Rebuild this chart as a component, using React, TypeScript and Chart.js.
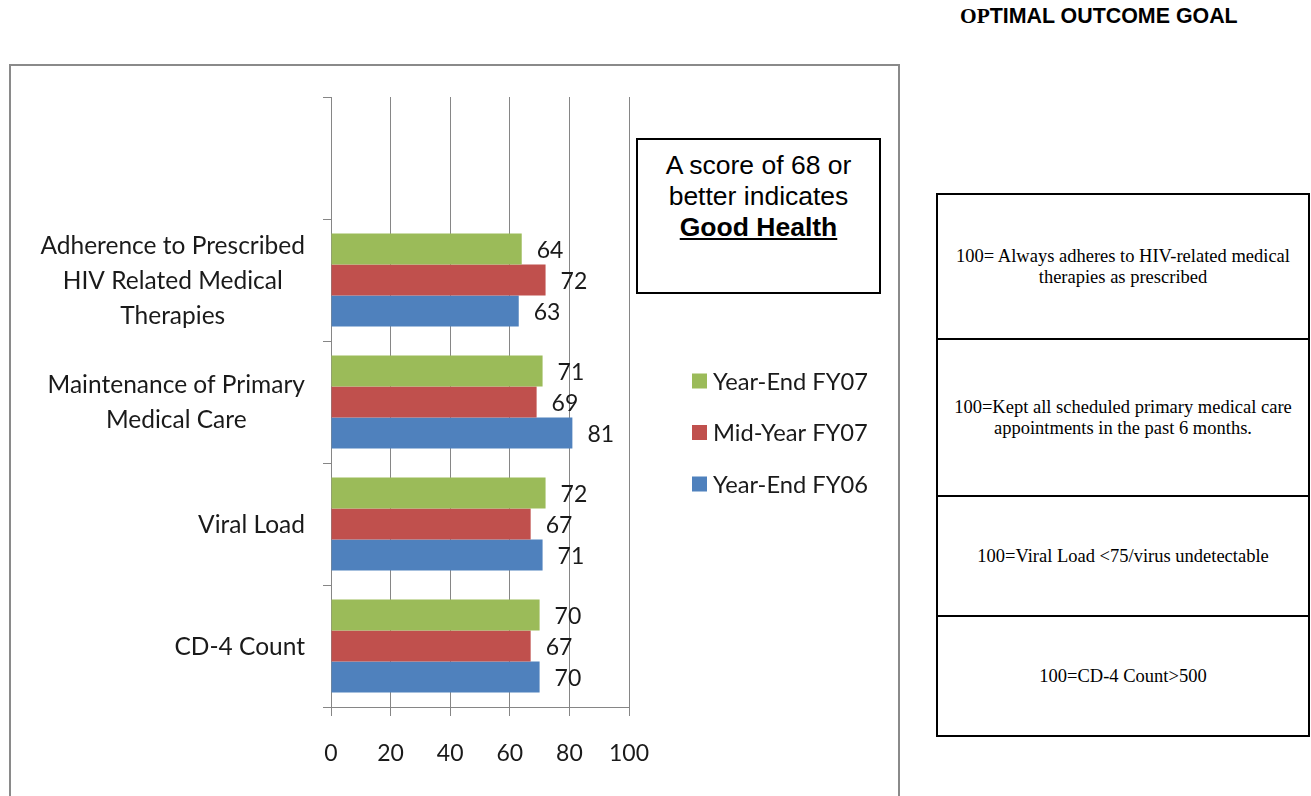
import React, { useEffect, useRef } from 'react';
import { Chart, registerables } from 'chart.js';
Chart.register(...registerables);

const categories = ['', 'Adherence to Prescribed HIV Related Medical Therapies', 'Maintenance of Primary Medical Care', 'Viral Load', 'CD-4 Count'];
const categoryLines: string[][] = [[], ['Adherence to Prescribed', 'HIV Related Medical', 'Therapies'], ['Maintenance of Primary', 'Medical Care'], ['Viral Load'], ['CD-4 Count']];
const yearEndFY07 = [null, 64, 71, 72, 70];
const midYearFY07 = [null, 72, 69, 67, 67];
const yearEndFY06 = [null, 63, 81, 71, 70];
const seriesNames = ['Year-End FY07', 'Mid-Year FY07', 'Year-End FY06'];
const seriesColors = ['#9BBB59', '#C0504D', '#4F81BD'];
const xMin = 0;
const xMax = 100;
const xStep = 20;
const goals = [
  ['100= Always adheres to HIV-related medical', 'therapies as prescribed'],
  ['100=Kept all scheduled primary medical care', 'appointments in the past 6 months.'],
  ['100=Viral Load <75/virus undetectable'],
  ['100=CD-4 Count>500'],
];
const goalRowHeights = [145, 157, 120, 120];

const FONT = 'Lato, "Open Sans", sans-serif';
const GRID = '#868686';
const TEXT = '#1a1a1a';

const labelsPlugin = {
  id: 'customLabels',
  afterDatasetsDraw(chart: any) {
    const ctx = chart.ctx;
    ctx.save();
    // value labels
    ctx.font = `23px ${FONT}`;
    ctx.fillStyle = TEXT;
    ctx.textAlign = 'left';
    ctx.textBaseline = 'middle';
    chart.data.datasets.forEach((ds: any, di: number) => {
      const meta = chart.getDatasetMeta(di);
      meta.data.forEach((bar: any, i: number) => {
        const v = ds.data[i];
        if (v === null || v === undefined) return;
        ctx.fillText(String(v), bar.x + 15, bar.y + 2);
      });
    });
    // category labels
    const yScale = chart.scales.y;
    ctx.font = `24.5px ${FONT}`;
    ctx.textAlign = 'center';
    categoryLines.forEach((lines, i) => {
      if (!lines.length) return;
      const cy = yScale.getPixelForValue(i);
      const w = Math.max(...lines.map((l) => ctx.measureText(l).width));
      const right = yScale.right - 26;
      const cx = right - w / 2;
      lines.forEach((l, j) => {
        ctx.fillText(l, cx, cy + (j - (lines.length - 1) / 2) * 35 + 1);
      });
    });
    // legend
    ctx.textAlign = 'left';
    ctx.font = `23.7px ${FONT}`;
    seriesNames.forEach((name, i) => {
      const y = 381 + i * 51.5;
      ctx.fillStyle = seriesColors[i];
      ctx.fillRect(692, y - 7.5, 15, 15);
      ctx.fillStyle = TEXT;
      ctx.fillText(name, 713, y + 1);
    });
    ctx.restore();
  },
};

function ChartBox() {
  const ref = useRef<HTMLCanvasElement>(null);
  useEffect(() => {
    if (!ref.current) return;
    const chart = new Chart(ref.current, {
      type: 'bar',
      data: {
        labels: categories,
        datasets: [
          { label: seriesNames[0], data: yearEndFY07, backgroundColor: seriesColors[0] },
          { label: seriesNames[1], data: midYearFY07, backgroundColor: seriesColors[1] },
          { label: seriesNames[2], data: yearEndFY06, backgroundColor: seriesColors[2] },
        ],
      },
      options: {
        indexAxis: 'y',
        responsive: false,
        animation: false,
        layout: { padding: { top: 97, right: 271, left: 0, bottom: 0 } },
        datasets: { bar: { categoryPercentage: 0.762, barPercentage: 1 } },
        plugins: { legend: { display: false }, tooltip: { enabled: false } },
        scales: {
          x: {
            type: 'linear',
            min: xMin,
            max: xMax,
            ticks: { stepSize: xStep, font: { family: FONT, size: 23 }, color: TEXT, padding: 24 },
            grid: { color: GRID, tickLength: 9, lineWidth: 1 },
            border: { color: GRID, width: 1 },
            afterFit: (s: any) => { s.height = 89; },
          },
          y: {
            type: 'category',
            offset: true,
            ticks: { display: false },
            grid: { drawOnChartArea: false, color: GRID, tickLength: 8, offset: true },
            border: { color: GRID, width: 1 },
            afterFit: (s: any) => { s.width = 331; },
          },
        },
      } as any,
      plugins: [labelsPlugin],
    });
    return () => chart.destroy();
  }, []);
  return <canvas ref={ref} width={900} height={796} style={{ position: 'absolute', left: 0, top: 0, width: 900, height: 796 }} />;
}

export default function App() {
  return (
    <div style={{ position: 'fixed', left: 0, top: 0, width: 1311, height: 796, overflow: 'hidden', background: '#fff' }}>
      <div style={{ position: 'absolute', left: 9, top: 64, width: 887, height: 800, border: '2px solid #8a8a8a', background: '#fff' }} />
      <ChartBox />
      <div style={{ position: 'absolute', left: 636, top: 138, width: 241, height: 141, border: '2px solid #000', background: '#fff', fontFamily: '"Liberation Sans", Arial, sans-serif', fontSize: 26.5, lineHeight: '31px', textAlign: 'center', paddingTop: 11, boxSizing: 'content-box' as any, whiteSpace: 'nowrap' }}>
        <div style={{ marginTop: -1 }}>A score of 68 or</div>
        <div>better indicates</div>
        <div style={{ fontWeight: 'bold', textDecoration: 'underline' }}>Good Health</div>
      </div>
      <div style={{ position: 'absolute', left: 960, top: 3, fontFamily: '"Liberation Sans", Arial, sans-serif', fontWeight: 'bold', fontSize: 21.4, lineHeight: '26px', whiteSpace: 'nowrap', color: '#000' }}>
        <span style={{ fontFamily: '"Liberation Serif", serif' }}>OP</span>TIMAL OUTCOME GOAL
      </div>
      <div style={{ position: 'absolute', left: 936, top: 193, width: 374, borderTop: '2px solid #000', borderLeft: '2px solid #000', borderRight: '2px solid #000', boxSizing: 'border-box' as any }}>
        {goals.map((lines, i) => (
          <div key={i} style={{ height: goalRowHeights[i], borderBottom: '2px solid #000', boxSizing: 'border-box' as any, display: 'flex', flexDirection: 'column', justifyContent: 'center', alignItems: 'center', fontFamily: '"Liberation Serif", "Times New Roman", serif', fontSize: 18.5, lineHeight: '21px', textAlign: 'center', color: '#000', whiteSpace: 'nowrap' }}>
            {lines.map((l, j) => <div key={j}>{l}</div>)}
          </div>
        ))}
      </div>
    </div>
  );
}
